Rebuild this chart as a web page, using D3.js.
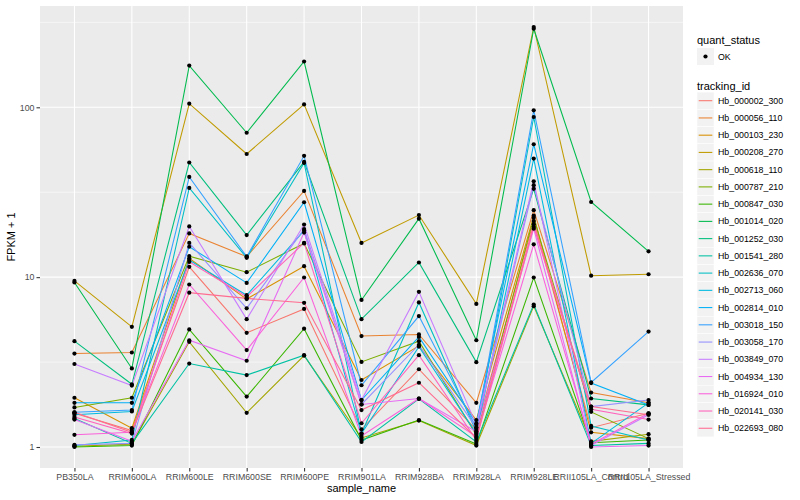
<!DOCTYPE html>
<html>
<head>
<meta charset="utf-8">
<script src="https://cdn.jsdelivr.net/npm/d3@7"></script>
<style>
  body { margin: 0; background: #fff; }
  text { font-family: "Liberation Sans", Arial, sans-serif; }
</style>
</head>
<body>
<div id="chart"></div>
<script>
var samples = ["PB350LA","RRIM600LA","RRIM600LE","RRIM600SE","RRIM600PE","RRIM901LA",
  "RRIM928BA","RRIM928LA","RRIM928LE","RRII105LA_Control","RRII105LA_Stressed"];

var trackingIds = ["Hb_000002_300","Hb_000056_110","Hb_000103_230","Hb_000208_270","Hb_000618_110",
  "Hb_000787_210","Hb_000847_030","Hb_001014_020","Hb_001252_030","Hb_001541_280","Hb_002636_070",
  "Hb_002713_060","Hb_002814_010","Hb_003018_150","Hb_003058_170","Hb_003849_070","Hb_004934_130",
  "Hb_016924_010","Hb_020141_030","Hb_022693_080"];

// FPKM + 1, one row per tracking id, one value per sample
var fpkm = [
  [1.58, 1.25, 11.5, 4.7, 6.5, 1.27, 2.87, 1.26, 21.4, 1.3, 1.58],
  [3.55, 3.6, 18.1, 13.2, 32.2, 4.5, 4.6, 1.82, 24.8, 2.09, 1.82],
  [1.95, 1.29, 12.9, 7.43, 11.6, 2.48, 3.94, 1.44, 23.0, 1.22, 1.12],
  [9.5, 5.1, 105, 53.1, 104, 15.9, 23.2, 6.96, 297, 10.2, 10.4],
  [1.01, 1.04, 4.16, 1.59, 3.45, 1.13, 1.43, 1.02, 6.75, 1.08, 1.19],
  [1.71, 1.95, 13.3, 10.7, 15.8, 3.17, 4.2, 1.18, 22.4, 1.61, 1.12],
  [1.0, 1.02, 4.92, 1.98, 4.97, 1.1, 1.44, 1.04, 9.95, 1.06, 1.1],
  [9.3, 2.9, 176, 70.8, 186, 7.34, 22.1, 4.25, 290, 27.7, 14.2],
  [4.2, 2.34, 47.3, 17.7, 47.7, 5.66, 12.2, 3.16, 33.1, 1.93, 1.77],
  [1.47, 1.05, 3.1, 2.65, 3.47, 1.07, 1.92, 1.07, 6.9, 1.02, 1.05],
  [1.02, 1.1, 33.5, 13.0, 47.0, 1.2, 7.1, 1.23, 87.7, 1.33, 1.1],
  [1.55, 1.62, 12.6, 7.83, 18.8, 1.2, 3.9, 1.2, 49.9, 1.05, 1.82],
  [1.82, 1.82, 15.1, 9.25, 27.6, 1.89, 4.45, 1.38, 60.6, 2.38, 1.77],
  [1.6, 1.65, 38.9, 13.2, 51.8, 2.31, 5.9, 1.3, 96, 2.4, 4.78],
  [1.03, 1.05, 15.9, 6.55, 19.2, 1.78, 4.0, 1.3, 34.8, 1.73, 1.89],
  [3.08, 2.3, 19.9, 5.66, 20.4, 1.89, 8.2, 1.35, 36.7, 1.02, 1.55],
  [1.45, 1.08, 4.25, 3.22, 18.3, 1.78, 1.93, 1.23, 19.3, 1.0, 1.02],
  [1.18, 1.22, 9.05, 3.72, 9.95, 1.16, 1.93, 1.15, 15.6, 1.04, 1.58],
  [1.5, 1.2, 12.3, 7.66, 15.9, 1.38, 3.47, 1.1, 19.8, 1.67, 1.45],
  [1.6, 1.22, 8.1, 7.5, 7.06, 1.65, 2.39, 1.13, 20.5, 1.73, 1.55]
];

var colors = ["#F8766D","#EA8331","#D89000","#C09B00","#A3A500","#7CAE00","#39B600","#00BB4E",
  "#00BF7D","#00C1A3","#00BFC4","#00BAE0","#00B0F6","#35A2FF","#9590FF","#C77CFF","#E76BF3",
  "#FA62DB","#FF62BC","#FF6C91"];

var yTicks = [1, 10, 100];
var yMinor = [Math.sqrt(10), Math.sqrt(1000), Math.sqrt(100000)];

var W = 800, H = 500;
var panel = {left: 40, right: 683, top: 6, bottom: 468};

var svg = d3.select("#chart").append("svg")
    .attr("width", W)
    .attr("height", H);

var x = d3.scalePoint()
    .domain(samples)
    .range([panel.left, panel.right])
    .padding(0.6);

// log scale with ggplot's 5% expansion
var allVals = d3.merge(fpkm);
var lo = Math.log10(d3.min(allVals)), hi = Math.log10(d3.max(allVals));
var pad = (hi - lo) * 0.05;
var y = d3.scaleLog()
    .domain([Math.pow(10, lo - pad), Math.pow(10, hi + pad)])
    .range([panel.bottom, panel.top]);

svg.append("rect")
    .attr("x", panel.left).attr("y", panel.top)
    .attr("width", panel.right - panel.left)
    .attr("height", panel.bottom - panel.top)
    .style("fill", "#EBEBEB");

var grid = svg.append("g");
grid.selectAll(".minor").data(yMinor).enter().append("line")
    .attr("x1", panel.left).attr("x2", panel.right)
    .attr("y1", function(d) { return y(d); })
    .attr("y2", function(d) { return y(d); })
    .style("stroke", "#fff").style("stroke-width", 0.55);
grid.selectAll(".major").data(yTicks).enter().append("line")
    .attr("x1", panel.left).attr("x2", panel.right)
    .attr("y1", function(d) { return y(d); })
    .attr("y2", function(d) { return y(d); })
    .style("stroke", "#fff").style("stroke-width", 1.07);
grid.selectAll(".vx").data(samples).enter().append("line")
    .attr("x1", function(d) { return x(d); })
    .attr("x2", function(d) { return x(d); })
    .attr("y1", panel.top).attr("y2", panel.bottom)
    .style("stroke", "#fff").style("stroke-width", 1.07);

var line = d3.line()
    .x(function(d, i) { return x(samples[i]); })
    .y(function(d) { return y(d); });

svg.append("g").selectAll("path")
    .data(fpkm)
    .enter().append("path")
    .attr("d", line)
    .style("fill", "none")
    .style("stroke", function(d, i) { return colors[i]; })
    .style("stroke-width", 1.07);

svg.append("g").selectAll("g")
    .data(fpkm)
    .enter().append("g")
    .selectAll("circle")
    .data(function(d) { return d; })
    .enter().append("circle")
    .attr("cx", function(d, i) { return x(samples[i]); })
    .attr("cy", function(d) { return y(d); })
    .attr("r", 2.1)
    .style("fill", "#000");

// axes
var xAxis = svg.append("g")
    .attr("transform", "translate(0," + panel.bottom + ")")
    .call(d3.axisBottom(x).tickSize(3.5).tickPadding(2));
var yAxis = svg.append("g")
    .attr("transform", "translate(" + panel.left + ",0)")
    .call(d3.axisLeft(y).tickValues(yTicks).tickFormat(d3.format("d")).tickSize(3.5).tickPadding(2));
[xAxis, yAxis].forEach(function(a) {
  a.select(".domain").remove();
  a.selectAll("line").style("stroke", "#333").style("stroke-width", 1.07);
  a.selectAll("text").style("fill", "#4D4D4D").style("font-size", "8.8px");
});

svg.append("text")
    .attr("x", (panel.left + panel.right) / 2)
    .attr("y", 492)
    .attr("text-anchor", "middle")
    .style("font-size", "11px")
    .text("sample_name");

svg.append("text")
    .attr("transform", "translate(15," + ((panel.top + panel.bottom) / 2) + ") rotate(-90)")
    .attr("text-anchor", "middle")
    .style("font-size", "11px")
    .text("FPKM + 1");

// legends
var leg = svg.append("g").attr("transform", "translate(697,0)");
leg.append("text").attr("x", 0).attr("y", 44).style("font-size", "11px").text("quant_status");
leg.append("rect").attr("x", 0).attr("y", 48).attr("width", 17).attr("height", 17).style("fill", "#F2F2F2");
leg.append("circle").attr("cx", 8.5).attr("cy", 56.5).attr("r", 2.1).style("fill", "#000");
leg.append("text").attr("x", 21).attr("y", 59.5).style("font-size", "8.8px").text("OK");

leg.append("text").attr("x", 0).attr("y", 90).style("font-size", "11px").text("tracking_id");
var keys = leg.selectAll(".key")
    .data(trackingIds)
    .enter().append("g")
    .attr("transform", function(d, i) { return "translate(0," + (92.1 + i * 17.24) + ")"; });
keys.append("rect").attr("width", 17).attr("height", 17.24).style("fill", "#F2F2F2")
    .style("stroke", "#fff").style("stroke-width", 0.5);
keys.append("line").attr("x1", 1.7).attr("x2", 15.3).attr("y1", 8.6).attr("y2", 8.6)
    .style("stroke", function(d, i) { return colors[i]; }).style("stroke-width", 1.07);
keys.append("text").attr("x", 21).attr("y", 11.6).style("font-size", "8.8px")
    .text(function(d) { return d; });
</script>
</body>
</html>
